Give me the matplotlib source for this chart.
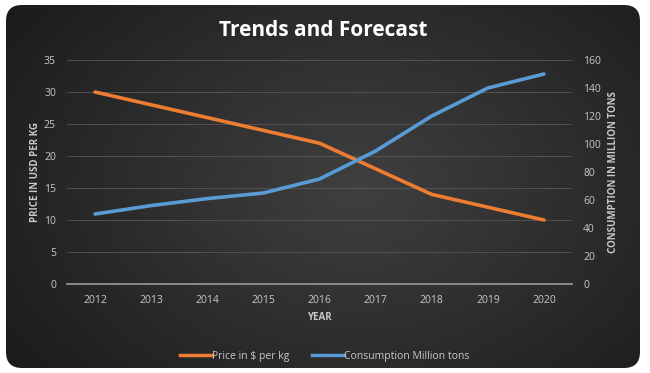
import numpy as np
import matplotlib
matplotlib.use("Agg")
import matplotlib.pyplot as plt
from matplotlib.patches import FancyBboxPatch
from matplotlib.lines import Line2D

years = ["2012", "2013", "2014", "2015", "2016", "2017", "2018", "2019", "2020"]
price = [30, 28, 26, 24, 22, 18, 14, 12, 10]
consumption = [50, 56, 61, 65, 75, 95, 120, 140, 150]
left_ticks = [0, 5, 10, 15, 20, 25, 30, 35]
right_ticks = [0, 20, 40, 60, 80, 100, 120, 140, 160]

plt.rcParams['font.family'] = ['Open Sans', 'DejaVu Sans']
W, H = 650, 373
fig = plt.figure(figsize=(W/100, H/100), dpi=100)
fig.patch.set_facecolor('white')

# background card with radial gradient
bg = fig.add_axes([0, 0, 1, 1], zorder=0)
bg.set_xlim(0, W); bg.set_ylim(0, H); bg.axis('off')
yy, xx = np.mgrid[0:H, 0:W]
r = np.sqrt(((xx - W*0.55)/(W*0.6))**2 + ((yy - H*0.5)/(H*0.75))**2)
v = np.clip(0.25 - 0.13*r, 0.1, 0.25)
img = np.dstack([v, v, v*1.02])
card = FancyBboxPatch((6, 5), 634, 363, boxstyle="round,pad=0,rounding_size=16",
                      transform=bg.transData, facecolor='none', edgecolor='none')
bg.add_patch(card)
im = bg.imshow(np.clip(img, 0, 1), extent=[0, W, 0, H], origin='lower', aspect='auto')
im.set_clip_path(card)

ax = fig.add_axes([67/W, 1-284/H, (572-67)/W, 224/H], zorder=1)
ax.set_facecolor('none')
x = np.arange(len(years))
ax.plot(x, price, color='#ED7D31', lw=2.6, solid_capstyle='round', zorder=3)
ax.set_xlim(-0.5, len(years)-0.5)
ax.set_ylim(0, 35)
ax.set_yticks(left_ticks)
ax.set_xticks(x)
ax.set_xticklabels(years)
tc = '#c8c8c8'
ax.tick_params(colors=tc, labelsize=7.5, length=0, pad=8)
for s in ['top', 'right', 'left']:
    ax.spines[s].set_visible(False)
ax.spines['bottom'].set_color('#9a9a9a')
ax.spines['bottom'].set_linewidth(1.2)
ax.grid(axis='y', color='#606060', lw=0.7, alpha=0.7)
ax.set_axisbelow(True)
ax.set_xlabel('YEAR', color=tc, fontsize=7, fontweight='bold', labelpad=4)
ax.set_ylabel('PRICE IN USD PER KG', color=tc, fontsize=7, fontweight='bold', labelpad=2)

ax2 = ax.twinx()
ax2.plot(x, consumption, color='#5B9BD5', lw=2.6, solid_capstyle='round', zorder=3)
ax2.set_ylim(0, 160)
ax2.set_yticks(right_ticks)
ax2.tick_params(colors=tc, labelsize=7.5, length=0, pad=8)
for s in ax2.spines.values():
    s.set_visible(False)
ax2.set_ylabel('CONSUMPTION IN MILLION TONS', color=tc, fontsize=7, fontweight='bold', labelpad=5)

fig.text(0.497, 1-30/H, 'Trends and Forecast', color='white', fontsize=15,
         fontweight='bold', ha='center', va='center')

handles = [Line2D([], [], color='#ED7D31', lw=2.5),
           Line2D([], [], color='#5B9BD5', lw=2.5)]
leg = fig.legend(handles, ['Price in $ per kg', 'Consumption Million tons'],
                 loc='center', bbox_to_anchor=(0.5, 1-356/H), ncol=2, frameon=False,
                 fontsize=7.5, labelcolor=tc, handlelength=3.0, handletextpad=0.05,
                 columnspacing=2.2)

fig.savefig('out.png', dpi=100, facecolor='white')
